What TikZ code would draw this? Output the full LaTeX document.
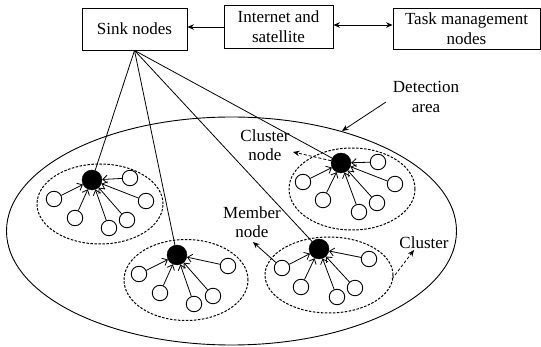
\documentclass[tikz,border=0pt]{standalone}
\usepackage{fontspec}
\setmainfont{Liberation Serif}
\usetikzlibrary{shapes.geometric,arrows.meta}
\begin{document}
\begin{tikzpicture}[x=1pt,y=-1pt,
  every node/.style={font=\fontsize{17}{19.5}\selectfont},
  boxnode/.style={draw,line width=0.9pt,rectangle,align=center,inner sep=0pt},
  headnode/.style={circle,fill=black,draw=black,minimum size=20pt,inner sep=0pt},
  memnode/.style={circle,draw,line width=0.9pt,minimum size=15.5pt,inner sep=0pt},
  clusterell/.style={ellipse,draw,line width=1pt,dash pattern=on 2.5pt off 1.5pt,inner sep=0pt},
  lbl/.style={align=center,inner sep=0pt},
  conn/.style={line width=0.8pt,-{Straight Barb[length=4.5pt,width=8pt]}},
  plain/.style={line width=0.8pt},
  tipfill/.style={line width=0.8pt,-{Stealth[length=6.5pt,width=5.5pt]}},
]
\useasboundingbox (0,0) rectangle (541,347);

% top boxes
\node[boxnode,minimum width=105pt,minimum height=42pt] (sink) at (134.5,29) {Sink nodes};
\node[boxnode,minimum width=109pt,minimum height=43pt] (inet) at (278.5,26.5) {Internet and\\satellite};
\node[boxnode,minimum width=147pt,minimum height=41pt] (task) at (466.5,28.5) {Task management\\nodes};
\draw[tipfill] (inet.west) ++(0,0.5) coordinate (iw) -- (sink.east |- iw);
\draw[line width=0.8pt,{Stealth[length=6.5pt,width=5.5pt]}-{Stealth[length=6.5pt,width=5.5pt]}] (inet.east) ++(0,-1.5) coordinate (ie) -- (task.west |- ie);

% detection area
\node[ellipse,draw,line width=0.9pt,minimum width=450pt,minimum height=228pt,inner sep=0pt] (area) at (231.5,231) {};
\node[lbl] (detlbl) at (426,97) {Detection\\area};
\coordinate (dstart) at (386,102);
\coordinate (dtip) at (342,131);
\draw[tipfill] (dstart) -- (dtip);

% cluster ellipses
\node[clusterell,minimum width=126pt,minimum height=80pt] (c1) at (100,204) {};
\node[clusterell,minimum width=124pt,minimum height=81pt] (c2) at (186,280) {};
\node[clusterell,minimum width=126pt,minimum height=82pt] (c3) at (352,189) {};
\node[clusterell,minimum width=128pt,minimum height=76pt] (c4) at (329,275) {};

% heads
\node[headnode] (h1) at (92,180) {};
\node[headnode] (h2) at (177,255) {};
\node[headnode] (h3) at (341,163) {};
\node[headnode] (h4) at (319,249) {};

% sink lines
\foreach \h in {h1,h2,h3,h4} \draw[plain] (sink.south) -- (\h);

% cluster 1 members
\foreach \p [count=\i] in {(130,178),(146,201),(54,199),(75,218),(127,220),(109,228)}
  \node[memnode] (a\i) at \p {};
\foreach \i in {1,...,6} \draw[conn] (a\i) -- (h1);

% cluster 2 members
\foreach \p [count=\i] in {(228,266),(139,274),(160,293),(194,304),(213,296)}
  \node[memnode] (b\i) at \p {};
\foreach \i in {1,...,5} \draw[conn] (b\i) -- (h2);

% cluster 3 members
\foreach \p [count=\i] in {(378,162),(395,184),(303,182),(323,200),(359,212),(377,203)}
  \node[memnode] (d\i) at \p {};
\foreach \i in {1,...,6} \draw[conn] (d\i) -- (h3);

% cluster 4 members
\foreach \p [count=\i] in {(282,268),(369,259),(301,287),(337,297),(355,288)}
  \node[memnode] (e\i) at \p {};
\foreach \i in {1,...,5} \draw[conn] (e\i) -- (h4);

% labels
\node[lbl] (cnlbl) at (265,145) {Cluster\\node};
\coordinate (cntip) at (293,152);
\draw[tipfill,dash pattern=on 3pt off 2pt] (h3) -- (cntip);

\node[lbl] (mnlbl) at (252,222) {Member\\node};
\coordinate (mntip) at (253,242);
\draw[tipfill] (e1) -- (mntip);

\node[lbl] (cllbl) at (424,243) {Cluster};
\coordinate (clstart) at (392,279);
\coordinate (cltip) at (414,250);
\draw[tipfill,dash pattern=on 3pt off 2pt] (clstart) -- (cltip);
\end{tikzpicture}
\end{document}
